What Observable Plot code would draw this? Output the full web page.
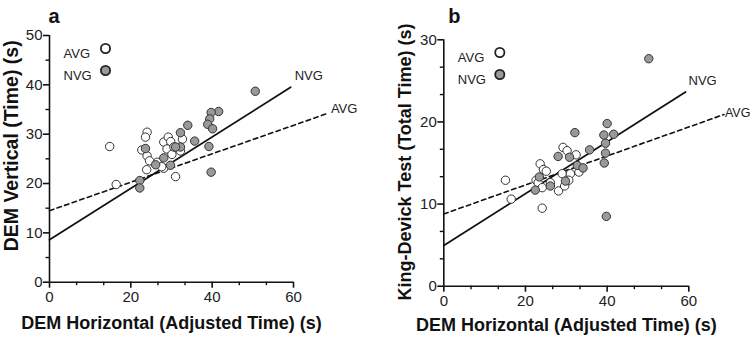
<!DOCTYPE html>
<html>
<head>
<meta charset="utf-8">
<script src="https://cdn.jsdelivr.net/npm/d3@7"></script>
<script src="https://cdn.jsdelivr.net/npm/@observablehq/plot@0.6"></script>
<style>
  html, body { margin: 0; padding: 0; background: #fff; }
  #wrap { display: flex; width: 750px; height: 340px; }
  svg { font-family: "Liberation Sans", Arial, sans-serif; }
</style>
</head>
<body>
<div id="wrap"></div>
<script>
// ---------- Panel a: DEM Vertical vs DEM Horizontal ----------
const avgAx = [14.8, 16.4, 24.0, 23.6, 22.7, 24.0, 24.6, 23.9, 28.1, 29.2, 29.8, 28.9, 30.1, 28.1, 31.0, 32.7, 32.2, 26.5, 30.6, 27.6];
const avgAy = [27.5, 19.8, 30.4, 29.4, 26.8, 25.6, 24.6, 22.8, 28.4, 29.4, 28.5, 27.0, 25.9, 23.1, 21.4, 29.0, 26.6, 24.3, 27.4, 23.4];
const nvgAx = [50.6, 41.6, 39.75, 39.4, 38.9, 40.1, 39.2, 39.75, 34.0, 35.7, 32.2, 32.2, 31.0, 29.75, 28.1, 26.1, 23.6, 22.2, 22.2];
const nvgAy = [38.7, 34.6, 34.4, 33.1, 32.0, 31.1, 27.5, 22.3, 31.8, 28.6, 30.3, 27.4, 27.4, 23.7, 25.2, 23.8, 27.1, 20.6, 19.1];
const nvgFitAx = [0, 59.3];
const nvgFitAy = [8.6, 39.5];
const avgFitAx = [0, 68.7];
const avgFitAy = [14.5, 34.3];

// ---------- Panel b: King-Devick vs DEM Horizontal ----------
const avgBx = [15.1, 16.5, 24.1, 23.6, 24.4, 25.1, 22.6, 23.1, 24.1, 28.1, 29.2, 30.2, 32.4, 29.0, 29.6, 31.0, 30.6, 33.1, 26.1];
const avgBy = [12.9, 10.6, 9.5, 14.9, 14.2, 14.0, 12.9, 12.6, 12.0, 11.6, 16.9, 16.5, 16.0, 13.7, 12.2, 13.7, 12.9, 13.9, 12.6];
const nvgBx = [50.2, 40.0, 39.2, 41.6, 39.6, 39.6, 39.3, 39.8, 32.1, 35.7, 28.0, 30.8, 32.7, 34.1, 29.8, 26.1, 23.4, 22.4];
const nvgBy = [27.7, 19.8, 18.4, 18.5, 17.4, 16.2, 15.0, 8.5, 18.7, 16.6, 15.8, 15.7, 14.7, 14.4, 12.8, 12.2, 13.3, 11.7];
const nvgFitBx = [0, 59.2];
const nvgFitBy = [4.95, 23.65];
const avgFitBx = [0, 68.6];
const avgFitBy = [8.8, 20.9];

// ---------- Axes / labels ----------
const xMajor = [0, 20, 40, 60];
const xMinor = [6.667, 13.333, 26.667, 33.333, 46.667, 53.333];
const yMajorA = [0, 10, 20, 30, 40, 50];
const yMinorA = [5, 15, 25, 35, 45];
const yMajorB = [0, 10, 20, 30];
const yMinorB = [3.333, 6.667, 13.333, 16.667, 23.333, 26.667];
const groups = ["AVG", "NVG"];
const xTitle = "DEM Horizontal (Adjusted Time) (s)";
const yTitleA = "DEM Vertical (Time) (s)";
const yTitleB = "King-Devick Test (Total Time) (s)";

const FONT = '"Liberation Sans", Arial, sans-serif';
const GRAY = "#999999";
const DARK = "#222222";

function pts(xs, ys) { return xs.map((x, i) => ({x, y: ys[i]})); }

function panel(cfg) {
  const avg = pts(cfg.avgX, cfg.avgY);
  const nvg = pts(cfg.nvgX, cfg.nvgY);
  const nvgFit = pts(cfg.nvgFitX, cfg.nvgFitY);
  const avgFit = pts(cfg.avgFitX, cfg.avgFitY);
  return Plot.plot({
    width: 375, height: 340,
    marginLeft: cfg.ml, marginRight: cfg.mr, marginTop: cfg.mt, marginBottom: cfg.mb,
    x: {domain: [0, 60], axis: null},
    y: {domain: cfg.yDomain, axis: null},
    style: {fontFamily: FONT, color: "#111", background: "#fff", overflow: "visible"},
    marks: [
      // axis lines
      Plot.ruleX([0], {y1: cfg.yDomain[0], y2: cfg.yDomain[1], stroke: "#111", strokeWidth: 1.6}),
      Plot.ruleY([0], {x1: 0, x2: 60, stroke: "#111", strokeWidth: 1.6}),
      Plot.axisX(xMajor, {tickSize: 6, tickPadding: 3, fontSize: 15, strokeWidth: 1.6, label: null, fill: DARK}),
      Plot.axisX(xMinor, {tickSize: 3.5, text: null, strokeWidth: 1.4, label: null}),
      Plot.axisY(cfg.yMajor, {tickSize: 6, tickPadding: 1, fontSize: 15, strokeWidth: 1.6, label: null, fill: DARK}),
      Plot.axisY(cfg.yMinor, {tickSize: 3.5, text: null, strokeWidth: 1.4, label: null}),
      // regression lines
      Plot.line(avgFit, {x: "x", y: "y", stroke: "#111", strokeWidth: 1.6, strokeDasharray: "4.5,3.5"}),
      Plot.line(nvgFit, {x: "x", y: "y", stroke: "#111", strokeWidth: 1.8}),
      Plot.text([nvgFit[1]], {x: "x", y: "y", text: () => "NVG", textAnchor: "start", dx: cfg.nvgLab[0], dy: cfg.nvgLab[1], fontSize: 13, fill: DARK}),
      Plot.text([avgFit[1]], {x: "x", y: "y", text: () => "AVG", textAnchor: "start", dx: cfg.avgLab[0], dy: cfg.avgLab[1], fontSize: cfg.avgFs, fill: DARK}),
      // points
      Plot.dot(avg, {x: "x", y: "y", r: 4.2, fill: "#fff", stroke: "#333", strokeWidth: 1}),
      Plot.dot(nvg, {x: "x", y: "y", r: 4.2, fill: GRAY, stroke: "#333", strokeWidth: 1}),
      // legend
      Plot.text([groups[0]], {frameAnchor: "top-left", text: d => d, textAnchor: "start", dx: 14, dy: cfg.legDy, fontSize: 13, fill: DARK}),
      Plot.text([groups[1]], {frameAnchor: "top-left", text: d => d, textAnchor: "start", dx: 14, dy: cfg.legDy + 22, fontSize: 13, fill: DARK}),
      Plot.dot([groups[0]], {frameAnchor: "top-left", dx: 56, dy: cfg.legDy, r: 4.6, fill: "#fff", stroke: "#222", strokeWidth: 1.8}),
      Plot.dot([groups[1]], {frameAnchor: "top-left", dx: 56, dy: cfg.legDy + 22, r: 4.6, fill: GRAY, stroke: "#222", strokeWidth: 1.8}),
      // panel letter
      Plot.text([cfg.letter], {frameAnchor: "top-left", text: d => d, textAnchor: "start", dx: cfg.letterDx, dy: cfg.letterDy, fontSize: 20, fontWeight: "bold", fill: "#111"}),
      // axis titles
      Plot.text([xTitle], {frameAnchor: "bottom", text: d => d, textAnchor: "middle", dy: cfg.xtDy, fontSize: 18, fontWeight: "bold", fill: "#111"}),
      Plot.text([cfg.yTitle], {frameAnchor: "left", text: d => d, textAnchor: "middle", lineAnchor: "middle", rotate: -90, dx: cfg.ytDx, dy: cfg.ytDy, fontSize: cfg.ytFs, fontWeight: "bold", fill: "#111"})
    ]
  });
}

const wrap = document.getElementById("wrap");
wrap.appendChild(panel({
  avgX: avgAx, avgY: avgAy, nvgX: nvgAx, nvgY: nvgAy,
  nvgFitX: nvgFitAx, nvgFitY: nvgFitAy, avgFitX: avgFitAx, avgFitY: avgFitAy,
  yDomain: [0, 50], yMajor: yMajorA, yMinor: yMinorA,
  ml: 49, mr: 82, mt: 35, mb: 58.3,
  nvgLab: [4, -11], avgLab: [2, -4], avgFs: 13, legDy: 13,
  letter: "a", letterDx: -1, letterDy: -26.4,
  xtDy: 46.3, ytDx: -37.3, ytDy: -13, ytFs: 19.5, yTitle: yTitleA
}));
wrap.appendChild(panel({
  avgX: avgBx, avgY: avgBy, nvgX: nvgBx, nvgY: nvgBy,
  nvgFitX: nvgFitBx, nvgFitY: nvgFitBy, avgFitX: avgFitBx, avgFitY: avgFitBy,
  yDomain: [0, 30], yMajor: yMajorB, yMinor: yMinorB,
  ml: 68.3, mr: 61.7, mt: 39.3, mb: 54.3,
  nvgLab: [3, -11], avgLab: [1, -2], avgFs: 12.5, legDy: 12.7,
  letter: "b", letterDx: 4.5, letterDy: -30.7,
  xtDy: 44.3, ytDx: -39, ytDy: -1, ytFs: 18, yTitle: yTitleB
}));
</script>
</body>
</html>
